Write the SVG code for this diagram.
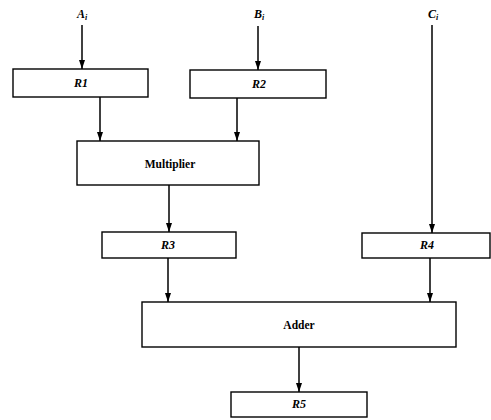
<svg xmlns="http://www.w3.org/2000/svg" width="491" height="420" viewBox="0 0 491 420">
<style>
.box{fill:#fff;stroke:#000;stroke-width:1.4}
.lbl{font-family:"Liberation Serif",serif;font-style:italic;font-weight:bold;font-size:12px;text-anchor:middle;fill:#000}
.txt{font-family:"Liberation Serif",serif;font-weight:bold;font-size:11.5px;text-anchor:middle;fill:#000}
.sub{font-size:8px}
.wire{stroke:#000;stroke-width:1.5;fill:none;marker-end:url(#ah)}
</style>
<defs>
<marker id="ah" markerUnits="userSpaceOnUse" markerWidth="9" markerHeight="6" refX="9" refY="3" orient="auto" viewBox="0 0 9 6">
<path d="M0,0 L9,3 L0,6 Z" fill="#000"/>
</marker>
</defs>
<rect width="491" height="420" fill="#fff"/>
<g id="connectors">
<path class="wire" d="M82,25 V69"/>
<path class="wire" d="M258,26 V70"/>
<path class="wire" d="M432,25 V233"/>
<path class="wire" d="M100,97 V141"/>
<path class="wire" d="M237,98 V141"/>
<path class="wire" d="M169,185 V232"/>
<path class="wire" d="M168,258 V302"/>
<path class="wire" d="M430,258 V302"/>
<path class="wire" d="M299,347 V392"/>
</g>
<g id="Ai"><text class="lbl" x="82" y="18">A<tspan class="sub" dy="2">i</tspan></text></g>
<g id="Bi"><text class="lbl" x="259" y="18">B<tspan class="sub" dy="2">i</tspan></text></g>
<g id="Ci"><text class="lbl" x="433" y="18">C<tspan class="sub" dy="2">i</tspan></text></g>
<g id="R1"><rect class="box" x="13" y="69" width="135" height="28"/><text class="lbl" x="81" y="87">R1</text></g>
<g id="R2"><rect class="box" x="190" y="70" width="136" height="28"/><text class="lbl" x="259" y="88">R2</text></g>
<g id="Multiplier"><rect class="box" x="77" y="141" width="182" height="44"/><text class="txt" x="170" y="168">Multiplier</text></g>
<g id="R3"><rect class="box" x="102" y="232" width="134" height="26"/><text class="lbl" x="168" y="249">R3</text></g>
<g id="R4"><rect class="box" x="362" y="233" width="128" height="25"/><text class="lbl" x="427" y="249">R4</text></g>
<g id="Adder"><rect class="box" x="142" y="302" width="314" height="45"/><text class="txt" x="299" y="329">Adder</text></g>
<g id="R5"><rect class="box" x="231" y="392" width="136" height="25"/><text class="lbl" x="299" y="408">R5</text></g>
</svg>
